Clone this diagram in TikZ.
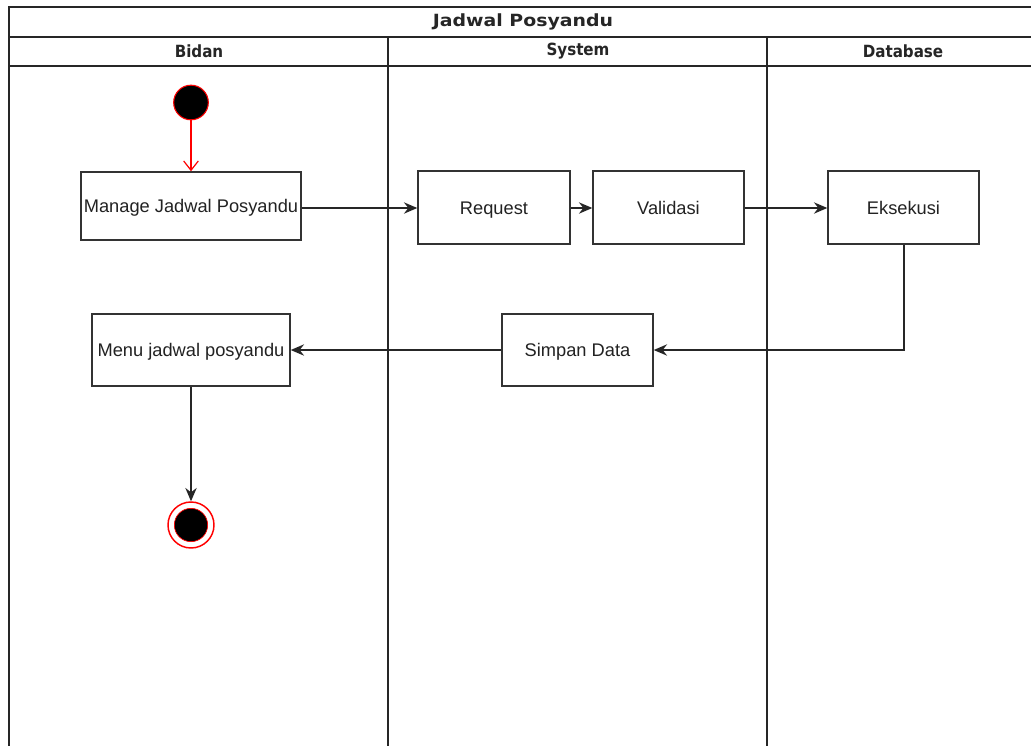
\documentclass[tikz,border=0pt]{standalone}
\usepackage{fontspec}
\usepackage{graphicx}
\setmainfont{Liberation Sans}
\newfontfamily\headfont{DejaVu Sans Condensed}
\usetikzlibrary{arrows.meta}
\definecolor{edge}{HTML}{333333}
\definecolor{txt}{HTML}{222222}
\definecolor{startred}{HTML}{FF0000}
\begin{document}
\begin{tikzpicture}[x=0.75pt,y=-0.75pt,
  lane/.style={draw=black!85,line width=1.1pt},
  act/.style={draw=edge,line width=1.1pt,fill=white,text=txt,
    font=\fontsize{13.7pt}{16pt}\selectfont,inner sep=0pt,
    text height=9.8pt,text depth=0pt},
  flow/.style={draw=black!85,line width=1.2pt,-{Stealth[length=10pt,width=8.5pt,inset=3.3pt]}},
  head/.style={font=\headfont\bfseries\fontsize{12.6pt}{14pt}\selectfont,text=black!85}
]
\useasboundingbox (0,0) rectangle (1031,746);
\fill[white] (0,0) rectangle (1031,746);

% swimlane frame
\draw[lane] (1031,7) -- (9,7) -- (9,746);
\draw[lane] (9,37) -- (1031,37);
\draw[lane] (9,66) -- (1031,66);
\draw[lane] (388,37) -- (388,746);
\draw[lane] (767,37) -- (767,746);

\node[head] (title) at (523,22) {\scalebox{1.25}[1]{Jadwal Posyandu}};
\node[head] (lbidan) at (199,51) {Bidan};
\node[head] (lsystem) at (578,51) {System};
\node[head] (ldb) at (903,51) {Database};

% activities
\node[act,minimum width=165pt,minimum height=51pt] (manage) at (191,206) {Manage Jadwal Posyandu};
\node[act,minimum width=114pt,minimum height=54.75pt] (request) at (494,207.5) {Request};
\node[act,minimum width=113.25pt,minimum height=54.75pt] (validasi) at (668.5,207.5) {Validasi};
\node[act,minimum width=113.25pt,minimum height=54.75pt] (eksekusi) at (903.5,207.5) {Eksekusi};
\node[act,minimum width=113.25pt,minimum height=54pt] (simpan) at (577.5,350) {Simpan Data};
\node[act,minimum width=148.5pt,minimum height=54pt] (menu) at (191,350) {Menu jadwal posyandu};

% initial and final states
\node[circle,fill=black,draw=startred,line width=0.8pt,minimum size=26pt,inner sep=0pt] (start) at (191,102.5) {};
\node[circle,draw=startred,line width=1.1pt,fill=white,minimum size=34.5pt,inner sep=0pt] (final) at (191,525) {};
\node[circle,fill=black,draw=startred,line width=0.5pt,minimum size=25pt,inner sep=0pt] (finaldot) at (191,525) {};

% transitions
\draw[draw=startred,line width=0.9pt,-{Straight Barb[length=7pt,width=11pt,line width=0.9pt]}] (start) -- (start |- manage.north);
\draw[flow] (manage.east) ++(0,2) coordinate (m1) -- (m1 -| request.west);
\draw[flow] (request.east) ++(0,0.5) coordinate (r1) -- (r1 -| validasi.west);
\draw[flow] (validasi.east) ++(0,0.5) coordinate (v1) -- (v1 -| eksekusi.west);
\draw[flow] (eksekusi.south) ++(0.5,0) coordinate (e1) |- (simpan.east);
\draw[flow] (simpan) -- (menu);
\draw[flow] (menu) -- (final);
\end{tikzpicture}
\end{document}
